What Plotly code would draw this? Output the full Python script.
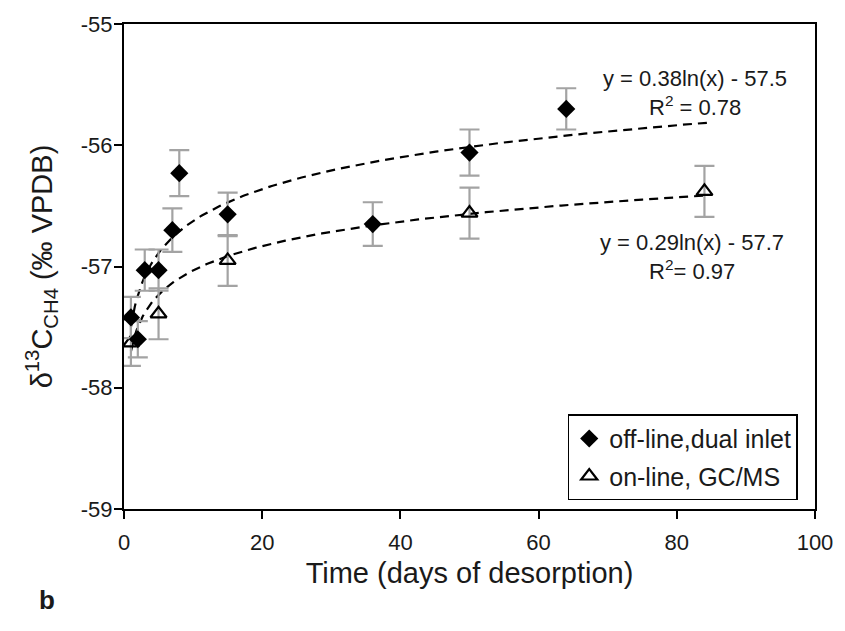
import numpy as np
import plotly.graph_objects as go

# off-line, dual inlet (diamonds)
off_days = [1, 2, 3, 5, 7, 8, 15, 36, 50, 64]
off_d13c = [-57.42, -57.60, -57.03, -57.03, -56.70, -56.23, -56.57, -56.65, -56.06, -55.70]
off_err = [0.17, 0.15, 0.17, 0.17, 0.18, 0.19, 0.18, 0.18, 0.19, 0.17]

# on-line, GC/MS (open triangles)
on_days = [1, 5, 15, 50, 84]
on_d13c = [-57.63, -57.39, -56.95, -56.56, -56.38]
on_err = [0.19, 0.21, 0.21, 0.21, 0.21]

# logarithmic fits as printed on the chart
fit_off = (0.38, -57.5)
fit_on = (0.29, -57.7)
fit_range = (1, 84.5)

x_ticks = [0, 20, 40, 60, 80, 100]
x_ticktext = ["0", "20", "40", "60", "80", "100"]
y_ticks = [-59, -58, -57, -56, -55]
y_ticktext = ["-59", "-58", "-57", "-56", "-55"]

FONT = "Liberation Sans, Arial, sans-serif"
TXT = "#1a1a1a"

fig = go.Figure()

xs = np.linspace(fit_range[0], fit_range[1], 300)
for a, b in (fit_off, fit_on):
    fig.add_trace(go.Scatter(
        x=xs, y=a * np.log(xs) + b, mode="lines",
        line=dict(color="black", width=2.2, dash="9px,6px"),
        showlegend=False, hoverinfo="skip"))

fig.add_trace(go.Scatter(
    x=on_days, y=on_d13c, mode="markers", name="on-line, GC/MS",
    legendgroup="b", legendrank=2,
    marker=dict(symbol="triangle-up-open", size=14, color="black",
                line=dict(color="black", width=2.2)),
    error_y=dict(type="data", array=on_err, color="#a3a3a3", thickness=2.2, width=10)))

fig.add_trace(go.Scatter(
    x=off_days, y=off_d13c, mode="markers", name="off-line,dual inlet",
    legendgroup="a", legendrank=1,
    marker=dict(symbol="diamond", size=14, color="black",
                line=dict(color="black", width=0)),
    error_y=dict(type="data", array=off_err, color="#a3a3a3", thickness=2.2, width=10)))

ann_font = dict(family=FONT, size=22, color=TXT)
annots = [
    (82.6, -55.45, "y = 0.38ln(x) - 57.5"),
    (82.6, -55.68, "R<sup>2</sup> = 0.78"),
    (82.2, -56.80, "y = 0.29ln(x) - 57.7"),
    (82.2, -57.03, "R<sup>2</sup>= 0.97"),
]
for x, y, t in annots:
    fig.add_annotation(x=x, y=y, text=t, showarrow=False, font=ann_font,
                       xanchor="center", yanchor="middle")

fig.add_annotation(xref="paper", yref="paper", x=-0.112, y=-0.187, text="<b>b</b>",
                   showarrow=False, font=dict(family=FONT, size=26, color=TXT),
                   xanchor="center", yanchor="middle")

axis_common = dict(showline=True, linecolor="black", linewidth=2, mirror=True,
                   ticks="outside", ticklen=8, tickwidth=1.5, tickcolor="black",
                   showgrid=False, zeroline=False, ticklabeloverflow="allow",
                   tickfont=dict(family=FONT, size=22, color=TXT))

fig.update_layout(
    width=845, height=631,
    margin=dict(l=124, r=28, t=14, b=122),
    plot_bgcolor="white", paper_bgcolor="white",
    font=dict(family=FONT, size=22, color=TXT),
    xaxis=dict(range=[0, 100], tickvals=x_ticks, ticktext=x_ticktext, ticklabelstandoff=5,
               title=dict(text="Time (days of desorption)", font=dict(family=FONT, size=29, color=TXT), standoff=8),
               **axis_common),
    yaxis=dict(range=[-59, -55], tickvals=y_ticks, ticktext=y_ticktext, ticklabelstandoff=-3,
               title=dict(text="δ<sup>13</sup>C<sub>CH4</sub> (‰ VPDB)", font=dict(family=FONT, size=29, color=TXT), standoff=20),
               **axis_common),
    legend=dict(x=0.975, y=0.018, xanchor="right", yanchor="bottom",
                bordercolor="black", borderwidth=1.5, bgcolor="white",
                font=dict(family=FONT, size=25, color=TXT),
                entrywidth=215, entrywidthmode="pixels",
                traceorder="grouped", tracegroupgap=2, itemwidth=30),
    showlegend=True,
)

fig.write_html("out.html")
